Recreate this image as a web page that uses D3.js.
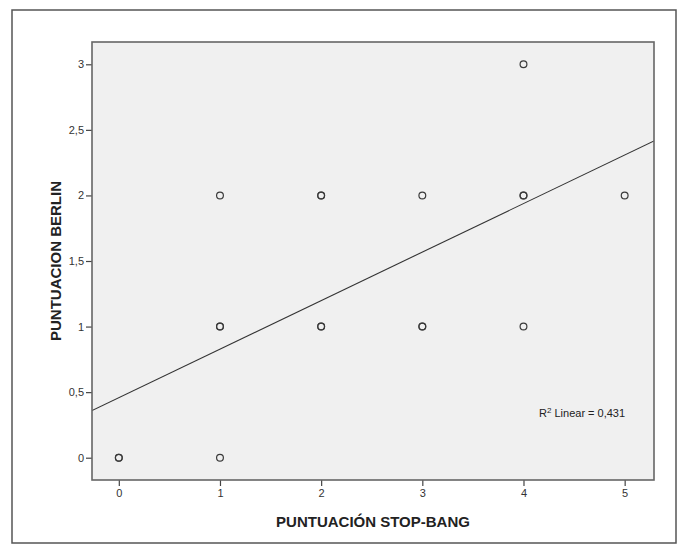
<!DOCTYPE html>
<html>
<head>
<meta charset="utf-8">
<script src="https://cdn.jsdelivr.net/npm/d3@7"></script>
<style>
  html, body { margin: 0; padding: 0; background: #fff; }
  svg { display: block; }
</style>
</head>
<body>
<svg id="chart" width="683" height="554"></svg>
<script>
// ---- data (duplicates = overplotted bold markers) ----
const stopBang = [0, 0, 1, 1, 1, 1, 2, 2, 2, 2, 3, 3, 3, 4, 4, 4, 4, 5];
const berlin   = [0, 0, 0, 1, 1, 2, 1, 1, 2, 2, 1, 1, 2, 1, 2, 2, 3, 2];
const xTicks = [0, 1, 2, 3, 4, 5];
const yTicks = [0, 0.5, 1, 1.5, 2, 2.5, 3];
const fitIntercept = 0.458;
const fitSlope = 0.370;
const r2Label = "0,431";
const xTitle = "PUNTUACIÓN STOP-BANG";
const yTitle = "PUNTUACION BERLIN";

const svg = d3.select("#chart");
const plot = { left: 92, right: 654, top: 42, bottom: 480 };

const x = d3.scaleLinear().domain([-0.265, 5.29]).range([plot.left, plot.right]);
const y = d3.scaleLinear().domain([-0.17, 3.17]).range([plot.bottom, plot.top]);

const fmt = d => String(d).replace(".", ",");

// outer frame
svg.append("rect").attr("x", 12).attr("y", 10).attr("width", 664).attr("height", 533)
  .attr("fill", "#fff").attr("stroke", "#555").attr("stroke-width", 1.5);

// plot background
svg.append("rect").attr("x", plot.left).attr("y", plot.top)
  .attr("width", plot.right - plot.left).attr("height", plot.bottom - plot.top)
  .attr("fill", "#f0f0f0");

// axes
const xAxis = d3.axisBottom(x).tickValues(xTicks).tickFormat(fmt).tickSize(6).tickSizeOuter(0);
const yAxis = d3.axisLeft(y).tickValues(yTicks).tickFormat(fmt).tickSize(6).tickSizeOuter(0);

const gx = svg.append("g").attr("transform", `translate(0,${plot.bottom})`).call(xAxis);
const gy = svg.append("g").attr("transform", `translate(${plot.left},0)`).call(yAxis);
[gx, gy].forEach(g => {
  g.select(".domain").remove();
  g.selectAll(".tick line").attr("stroke", "#444").attr("stroke-width", 1.2);
  g.selectAll(".tick text").attr("fill", "#333")
    .style("font-family", "'Liberation Sans', Arial, sans-serif").style("font-size", "11px");
});
gx.selectAll(".tick text").attr("dy", "0.9em").attr("y", 7);
gy.selectAll(".tick text").attr("x", -8);

// regression line (clipped to the plot)
svg.append("clipPath").attr("id", "clip").append("rect")
  .attr("x", plot.left).attr("y", plot.top)
  .attr("width", plot.right - plot.left).attr("height", plot.bottom - plot.top);
const xd = x.domain();
svg.append("line")
  .attr("clip-path", "url(#clip)")
  .attr("x1", x(xd[0])).attr("y1", y(fitIntercept + fitSlope * xd[0]))
  .attr("x2", x(xd[1])).attr("y2", y(fitIntercept + fitSlope * xd[1]))
  .attr("stroke", "#333").attr("stroke-width", 1.1);

// points
svg.append("g").selectAll("circle").data(stopBang.map((v, i) => [v, berlin[i]]))
  .join("circle")
  .attr("cx", d => x(d[0])).attr("cy", d => y(d[1])).attr("r", 3.4)
  .attr("fill", "none").attr("stroke", "#3a3a3a").attr("stroke-width", 1.2);

// plot border
svg.append("rect").attr("x", plot.left).attr("y", plot.top)
  .attr("width", plot.right - plot.left).attr("height", plot.bottom - plot.top)
  .attr("fill", "none").attr("stroke", "#666").attr("stroke-width", 1.6);

// R² annotation
const r2 = svg.append("text").attr("x", 539).attr("y", 417)
  .attr("fill", "#222")
  .style("font-family", "'Liberation Sans', Arial, sans-serif").style("font-size", "11px");
r2.append("tspan").text("R");
r2.append("tspan").attr("dy", -4).style("font-size", "8px").text("2");
r2.append("tspan").attr("dy", 4).text(" Linear = " + r2Label);

// axis titles
svg.append("text").attr("x", (plot.left + plot.right) / 2).attr("y", 527)
  .attr("text-anchor", "middle").attr("fill", "#222")
  .style("font-family", "'Liberation Sans', Arial, sans-serif")
  .style("font-size", "15px").style("font-weight", "bold").text(xTitle);

svg.append("text")
  .attr("transform", `translate(61,${(plot.top + plot.bottom) / 2}) rotate(-90)`)
  .attr("text-anchor", "middle").attr("fill", "#222")
  .style("font-family", "'Liberation Sans', Arial, sans-serif")
  .style("font-size", "15px").style("font-weight", "bold").text(yTitle);
</script>
</body>
</html>
